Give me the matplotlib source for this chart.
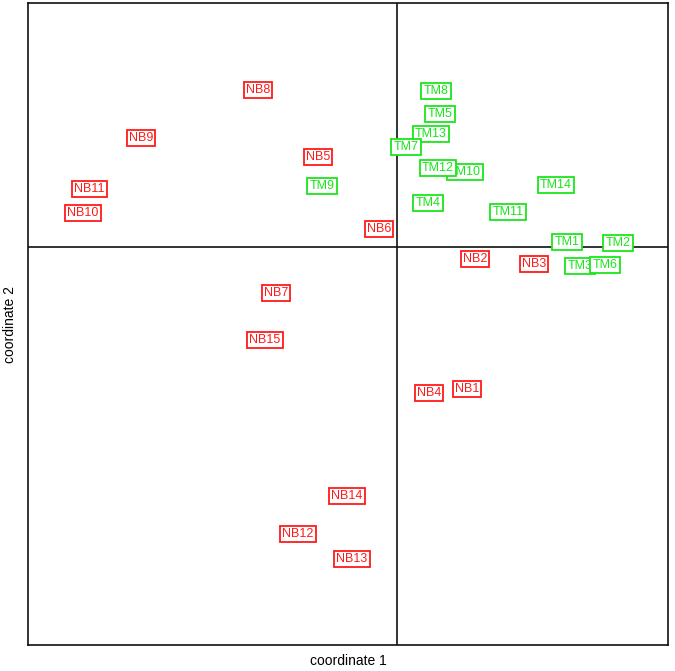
import matplotlib
matplotlib.use("Agg")
import matplotlib.pyplot as plt

# ── label positions (MDS coordinates) ────────────────────────────────────────
NB_LABELS = ["NB1", "NB2", "NB3", "NB4", "NB5", "NB6", "NB7", "NB8", "NB9", "NB10",
             "NB11", "NB12", "NB13", "NB14", "NB15"]
NB_X = [0.35, 0.39, 0.685, 0.16, -0.395, -0.09, -0.605, -0.695, -1.28, -1.57,
        -1.54, -0.495, -0.225, -0.25, -0.66]
NB_Y = [-0.71, -0.06, -0.085, -0.73, 0.45, 0.09, -0.23, 0.785, 0.545, 0.17,
        0.29, -1.435, -1.56, -1.245, -0.465]

TM_LABELS = ["TM1", "TM10", "TM11", "TM12", "TM13", "TM14", "TM2", "TM3", "TM4",
             "TM5", "TM6", "TM7", "TM8", "TM9"]
TM_X = [0.85, 0.34, 0.555, 0.205, 0.17, 0.795, 1.105, 0.915, 0.155,
        0.215, 1.04, 0.045, 0.195, -0.375]
TM_Y = [0.025, 0.375, 0.175, 0.395, 0.565, 0.31, 0.02, -0.095, 0.22,
        0.665, -0.09, 0.50, 0.78, 0.305]

RED = "#ff1a1a"
GREEN = "#19e619"
plt.rcParams["font.family"] = ["Liberation Sans", "DejaVu Sans"]

fig = plt.figure(figsize=(6.75, 6.71), dpi=100)
ax = fig.add_axes([28 / 675, 26 / 671, 640 / 675, 642 / 671])
ax.set_xlim(-1.845, 1.355)
ax.set_ylim(-1.99, 1.22)
ax.set_xticks([]); ax.set_yticks([])
for s in ax.spines.values():
    s.set_linewidth(1.2); s.set_color("#111")
ax.axhline(0, color="#111", lw=1.2, zorder=1)
ax.axvline(0, color="#111", lw=1.2, zorder=1)

z = 2
for labs, xs, ys, col in [(NB_LABELS, NB_X, NB_Y, RED), (TM_LABELS, TM_X, TM_Y, GREEN)]:
    for lab, x, y in zip(labs, xs, ys):
        ax.text(x, y, lab, ha="center", va="center", fontsize=9, color=col, zorder=z,
                bbox=dict(boxstyle="square,pad=0.18", fc="white", ec=col, lw=1.3))
        z += 1

fig.text(348 / 675, 1 - 661 / 671, "coordinate 1", ha="center", va="center", fontsize=10)
fig.text(10 / 675, 1 - 324 / 671, "coordinate 2", ha="center", va="center", fontsize=10,
         rotation=90)

fig.savefig("out.png", dpi=100)
